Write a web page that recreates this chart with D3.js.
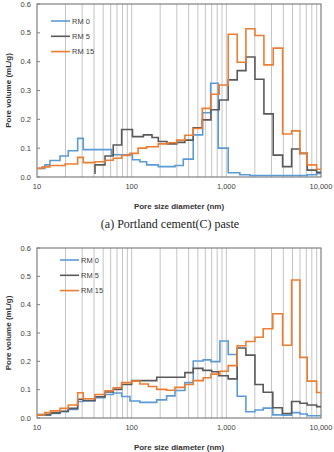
<!DOCTYPE html>
<html lang="en">
<head>
    <meta charset="UTF-8">
    <title>Pore size distribution</title>
    <script src="https://d3js.org/d3.v7.min.js"></script>
    <style>
        body { margin: 0; background: #fff; }
        text { font-family: "Liberation Sans", Arial, sans-serif; fill: #404040; }
        .tick-label { font-size: 7.5px; }
        .axis-label { font-size: 8px; font-weight: bold; fill: #333; }
        .legend-label { font-size: 7.5px; }
        .caption { font-family: "Liberation Serif", "Times New Roman", serif; font-size: 12px; fill: #222; }
    </style>
</head>
<body>
    <script>
        const seriesNames = ["RM 0", "RM 5", "RM 15"]
        const seriesColors = ["#5b9bd5", "#595959", "#ed7d31"]
        const xTickValues = [10, 100, 1000, 10000]
        const xTickLabels = ["10", "100", "1,000", "10,000"]
        const yTickValues = [0, 0.1, 0.2, 0.3, 0.4, 0.5, 0.6]
        const yTickLabels = ["0.0", "0.1", "0.2", "0.3", "0.4", "0.5", "0.6"]

        // (a) Portland cement paste - bin edges (nm) and pore volume (mL/g) per bin
        const aRm0Edges = [10, 12.1, 13.7, 17.5, 21.4, 26.9, 30.8, 61.5, 102, 122, 144, 191, 287, 351, 447, 562, 683, 821, 1047, 1390, 1775, 7150, 8990, 10000]
        const aRm0Vals = [0.030, 0.042, 0.057, 0.073, 0.091, 0.134, 0.095, 0.077, 0.060, 0.053, 0.042, 0.036, 0.040, 0.062, 0.146, 0.223, 0.325, 0.100, 0.015, 0.008, 0.005, 0.008, 0.012]
        const aRm5Edges = [40.5, 41, 52.3, 63.9, 78.4, 102, 133, 164, 191, 236, 299, 365, 447, 557, 688, 841, 1047, 1303, 1610, 2005, 2495, 3128, 3931, 4892, 5986, 7152, 8986, 10000]
        const aRm5Vals = [0.013, 0.042, 0.073, 0.111, 0.165, 0.140, 0.146, 0.137, 0.123, 0.115, 0.120, 0.128, 0.171, 0.198, 0.233, 0.267, 0.337, 0.369, 0.416, 0.339, 0.219, 0.076, 0.036, 0.097, 0.082, 0.024, 0.016]
        const aRm15Edges = [10, 11.3, 13.7, 19.8, 26.9, 30.8, 41, 52.3, 63.9, 78.4, 95.9, 117, 144, 191, 243, 299, 365, 447, 557, 688, 841, 1047, 1303, 1610, 2005, 2495, 3128, 3931, 4892, 5986, 7152, 8986, 10000]
        const aRm15Vals = [0.030, 0.035, 0.040, 0.045, 0.068, 0.050, 0.053, 0.058, 0.065, 0.075, 0.082, 0.100, 0.105, 0.115, 0.119, 0.128, 0.145, 0.168, 0.238, 0.287, 0.319, 0.495, 0.398, 0.514, 0.491, 0.389, 0.447, 0.149, 0.160, 0.082, 0.042, 0.027]

        // (b) second paste
        const bRm0Edges = [10, 13.9, 17.5, 21.4, 26.9, 30.8, 41, 52.3, 63.9, 78.4, 95.9, 122, 184, 234, 287, 365, 447, 570, 688, 855, 1047, 1303, 1610, 2005, 2450, 3100, 3930, 4890, 5990, 7150, 10000]
        const bRm0Vals = [0.010, 0.016, 0.022, 0.030, 0.058, 0.060, 0.072, 0.083, 0.088, 0.076, 0.060, 0.055, 0.064, 0.078, 0.097, 0.125, 0.201, 0.205, 0.199, 0.272, 0.224, 0.077, 0.022, 0.028, 0.035, 0.011, 0.010, 0.019, 0.014, 0.008]
        const bRm5Edges = [10, 13.9, 17.5, 21.4, 26.9, 30.8, 41, 52.3, 63.9, 78.4, 100, 184, 365, 447, 565, 700, 830, 1047, 1303, 1610, 2005, 2450, 3100, 3900, 4890, 5990, 7150, 8990, 10000]
        const bRm5Vals = [0.012, 0.018, 0.024, 0.034, 0.066, 0.062, 0.075, 0.092, 0.101, 0.118, 0.132, 0.144, 0.160, 0.175, 0.168, 0.163, 0.149, 0.138, 0.247, 0.222, 0.118, 0.091, 0.036, 0.016, 0.058, 0.052, 0.046, 0.040]
        const bRm15Edges = [10, 12.1, 13.9, 17.5, 21.4, 26.9, 30.8, 41, 52.3, 63.9, 78.4, 100, 122, 150, 184, 234, 287, 365, 447, 570, 688, 855, 1047, 1303, 1610, 2005, 2450, 3100, 3930, 4890, 5990, 7150, 8990, 10000]
        const bRm15Vals = [0.011, 0.019, 0.025, 0.034, 0.046, 0.089, 0.068, 0.083, 0.096, 0.107, 0.125, 0.130, 0.120, 0.111, 0.101, 0.098, 0.108, 0.118, 0.132, 0.142, 0.155, 0.165, 0.185, 0.255, 0.270, 0.285, 0.315, 0.368, 0.257, 0.487, 0.214, 0.130, 0.090]

        const svg = d3.select("body").append("svg")
            .attr("width", 334)
            .attr("height", 452)

        // turn edges + values into step points, last edge repeats last value
        function toSteps(edges, vals) {
            return edges.map((e, i) => [e, i < vals.length ? vals[i] : vals[vals.length - 1]])
        }

        function drawChart(cfg) {
            const x = d3.scaleLog().domain([10, 10000]).range([cfg.left, cfg.right])
            const y = d3.scaleLinear().domain([0, 0.6]).range([cfg.bottom, cfg.top])
            const g = svg.append("g")

            // vertical grid at log minor ticks
            g.append("g")
                .selectAll("line")
                .data(x.ticks().filter(t => t > 10 && t < 10000))
                .enter().append("line")
                .attr("x1", d => x(d))
                .attr("x2", d => x(d))
                .attr("y1", cfg.top)
                .attr("y2", cfg.bottom)
                .attr("stroke", "#c4c4c4")
                .attr("stroke-width", 1)

            g.append("rect")
                .attr("x", cfg.left)
                .attr("y", cfg.top)
                .attr("width", cfg.right - cfg.left)
                .attr("height", cfg.bottom - cfg.top)
                .attr("fill", "none")
                .attr("stroke", "#808080")
                .attr("stroke-width", 1.2)

            // y ticks (inward) and labels
            g.append("g")
                .selectAll("line")
                .data(yTickValues)
                .enter().append("line")
                .attr("x1", cfg.left)
                .attr("x2", cfg.left + 3)
                .attr("y1", d => y(d))
                .attr("y2", d => y(d))
                .attr("stroke", "#808080")

            g.append("g")
                .selectAll("text")
                .data(yTickValues)
                .enter().append("text")
                .attr("class", "tick-label")
                .attr("x", cfg.left - 6)
                .attr("y", d => y(d))
                .attr("dy", "0.35em")
                .attr("text-anchor", "end")
                .text((d, i) => yTickLabels[i])

            g.append("g")
                .selectAll("text")
                .data(xTickValues)
                .enter().append("text")
                .attr("class", "tick-label")
                .attr("x", d => x(d))
                .attr("y", cfg.bottom + 12)
                .attr("text-anchor", "middle")
                .text((d, i) => xTickLabels[i])

            const line = d3.line()
                .x(d => x(d[0]))
                .y(d => y(d[1]))
                .curve(d3.curveStepAfter)

            cfg.series.forEach((s, i) => {
                g.append("path")
                    .datum(toSteps(s[0], s[1]))
                    .attr("fill", "none")
                    .attr("stroke", seriesColors[i])
                    .attr("stroke-width", 1.6)
                    .attr("d", line)
            })

            // legend
            seriesNames.forEach((name, i) => {
                const ly = cfg.legendY + i * 15.3
                g.append("line")
                    .attr("x1", cfg.legendX)
                    .attr("x2", cfg.legendX + 19)
                    .attr("y1", ly)
                    .attr("y2", ly)
                    .attr("stroke", seriesColors[i])
                    .attr("stroke-width", 1.6)
                g.append("text")
                    .attr("class", "legend-label")
                    .attr("x", cfg.legendX + 21)
                    .attr("y", ly)
                    .attr("dy", "0.35em")
                    .text(name)
            })

            g.append("text")
                .attr("class", "axis-label")
                .attr("x", (cfg.left + cfg.right) / 2)
                .attr("y", cfg.bottom + 32)
                .attr("text-anchor", "middle")
                .text("Pore size diameter (nm)")

            g.append("text")
                .attr("class", "axis-label")
                .attr("transform", "rotate(-90)")
                .attr("x", -(cfg.top + cfg.bottom) / 2)
                .attr("y", 11)
                .attr("text-anchor", "middle")
                .text("Pore volume (mL/g)")
        }

        drawChart({
            left: 37, right: 321, top: 4, bottom: 177,
            legendX: 51, legendY: 21,
            series: [[aRm0Edges, aRm0Vals], [aRm5Edges, aRm5Vals], [aRm15Edges, aRm15Vals]]
        })

        svg.append("text")
            .attr("class", "caption")
            .attr("x", 170)
            .attr("y", 228)
            .attr("text-anchor", "middle")
            .text("(a) Portland cement(C) paste")

        drawChart({
            left: 37, right: 321, top: 248, bottom: 418,
            legendX: 60, legendY: 260,
            series: [[bRm0Edges, bRm0Vals], [bRm5Edges, bRm5Vals], [bRm15Edges, bRm15Vals]]
        })
    </script>
</body>
</html>
